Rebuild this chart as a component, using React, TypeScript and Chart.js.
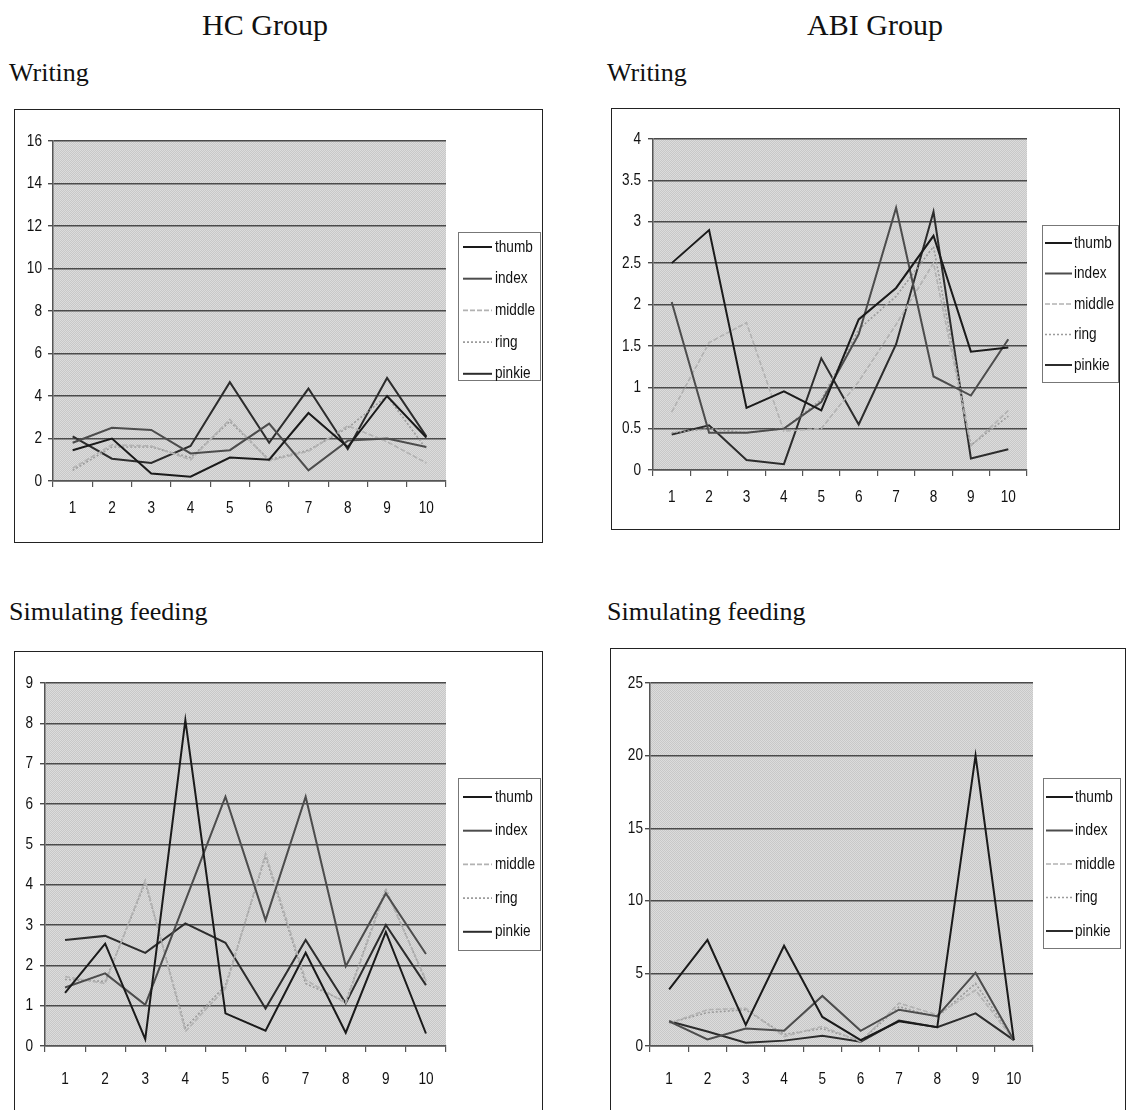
import React, { useEffect, useRef } from 'react';
import { Chart, registerables } from 'chart.js';

Chart.register(...registerables);

// ---------- data ----------
const categories = ['1', '2', '3', '4', '5', '6', '7', '8', '9', '10'];
const seriesNames = ['thumb', 'index', 'middle', 'ring', 'pinkie'];

// HC group – Writing
const hcWritingThumb = [1.45, 2.0, 0.35, 0.2, 1.1, 1.0, 3.2, 1.6, 4.0, 2.05];
const hcWritingIndex = [1.8, 2.5, 2.4, 1.3, 1.45, 2.7, 0.5, 1.9, 2.0, 1.6];
const hcWritingMiddle = [0.6, 1.7, 1.65, 1.0, 2.9, 0.95, 1.4, 2.6, 1.85, 0.85];
const hcWritingRing = [0.5, 1.6, 1.6, 1.1, 2.8, 1.0, 1.45, 2.5, 4.0, 1.5];
const hcWritingPinkie = [2.1, 1.05, 0.85, 1.65, 4.65, 1.8, 4.35, 1.5, 4.85, 2.1];

// ABI group – Writing
const abiWritingThumb = [2.5, 2.9, 0.75, 0.95, 0.72, 1.82, 2.2, 2.83, 1.43, 1.48];
const abiWritingIndex = [2.03, 0.45, 0.45, 0.5, 0.82, 1.64, 3.17, 1.13, 0.9, 1.58];
const abiWritingMiddle = [0.7, 1.54, 1.78, 0.47, 0.5, 1.07, 1.76, 2.5, 0.29, 0.72];
const abiWritingRing = [0.45, 0.5, 0.45, 0.5, 0.85, 1.7, 2.1, 2.7, 0.3, 0.65];
const abiWritingPinkie = [0.43, 0.54, 0.12, 0.07, 1.35, 0.55, 1.52, 3.12, 0.14, 0.25];

// HC group – Simulating feeding
const hcFeedingThumb = [1.32, 2.54, 0.17, 8.08, 0.81, 0.38, 2.31, 0.33, 2.83, 0.31];
const hcFeedingIndex = [1.45, 1.8, 1.02, 3.6, 6.18, 3.12, 6.18, 1.98, 3.78, 2.28];
const hcFeedingMiddle = [1.72, 1.55, 4.11, 0.36, 1.43, 4.77, 1.64, 1.06, 3.86, 1.64];
const hcFeedingRing = [1.65, 1.6, 4.05, 0.45, 1.5, 4.7, 1.55, 1.1, 3.9, 1.6];
const hcFeedingPinkie = [2.63, 2.73, 2.31, 3.04, 2.56, 0.93, 2.63, 1.06, 3.0, 1.51];

// ABI group – Simulating feeding
const abiFeedingThumb = [3.9, 7.3, 1.45, 6.9, 2.0, 0.4, 1.7, 1.3, 20.0, 0.4];
const abiFeedingIndex = [1.7, 0.45, 1.2, 1.05, 3.45, 1.05, 2.5, 2.05, 5.05, 0.4];
const abiFeedingMiddle = [1.55, 2.5, 2.6, 0.65, 1.35, 0.3, 2.95, 2.15, 3.85, 0.4];
const abiFeedingRing = [1.6, 2.3, 2.5, 0.8, 1.2, 0.35, 2.7, 2.0, 4.3, 0.45];
const abiFeedingPinkie = [1.7, 1.0, 0.23, 0.37, 0.7, 0.3, 1.75, 1.3, 2.25, 0.4];

// axis ranges [min, max, step]
const hcWritingAxis = [0, 16, 2];
const abiWritingAxis = [0, 4, 0.5];
const hcFeedingAxis = [0, 9, 1];
const abiFeedingAxis = [0, 25, 5];

// ---------- styles ----------
const seriesStyles = [
  { color: '#1a1a1a', width: 2, dash: [] as number[] },
  { color: '#4c4c4c', width: 2, dash: [] as number[] },
  { color: '#b2b2b2', width: 1.6, dash: [5, 2] },
  { color: '#9c9c9c', width: 1.6, dash: [2, 2] },
  { color: '#2c2c2c', width: 2, dash: [] as number[] },
];

const SANS = "'Liberation Sans', Arial, sans-serif";
const NARROW = 0.8;

let patternCanvas: HTMLCanvasElement | null = null;
function getPattern(ctx: CanvasRenderingContext2D) {
  if (!patternCanvas) {
    patternCanvas = document.createElement('canvas');
    patternCanvas.width = 2;
    patternCanvas.height = 2;
    const p = patternCanvas.getContext('2d')!;
    p.fillStyle = '#dcdcdc';
    p.fillRect(0, 0, 2, 2);
    p.fillStyle = '#c8c8c8';
    p.fillRect(0, 0, 1, 1);
    p.fillRect(1, 1, 1, 1);
  }
  return ctx.createPattern(patternCanvas, 'repeat');
}

function narrowText(ctx: CanvasRenderingContext2D, text: string, x: number, y: number, align: CanvasTextAlign, size: number) {
  ctx.save();
  ctx.translate(x, y);
  ctx.scale(NARROW, 1);
  ctx.font = `${size}px ${SANS}`;
  ctx.textAlign = align;
  ctx.textBaseline = 'middle';
  ctx.fillStyle = '#111';
  ctx.fillText(text, 0, 0);
  ctx.restore();
}

const plotBgPlugin = {
  id: 'plotBg',
  beforeDraw(chart: any) {
    const { ctx, chartArea } = chart;
    ctx.save();
    ctx.fillStyle = getPattern(ctx) || '#d0d0d0';
    ctx.fillRect(chartArea.left, chartArea.top, chartArea.right - chartArea.left, chartArea.bottom - chartArea.top);
    ctx.restore();
  },
};

const tickLabelPlugin = {
  id: 'tickLabels',
  afterDraw(chart: any, _args: any, opts: any) {
    const { ctx, chartArea } = chart;
    const xs = chart.scales.x;
    const ys = chart.scales.y;
    ys.ticks.forEach((t: any, i: number) => {
      const py = ys.getPixelForTick(i);
      const label = String(Number(Number(t.value).toFixed(2)));
      narrowText(ctx, label, chartArea.left - opts.yGap, py, 'right', 17);
    });
    xs.ticks.forEach((t: any, i: number) => {
      const px = xs.getPixelForTick(i);
      narrowText(ctx, String(xs.getLabelForValue(t.value)), px, chartArea.bottom + opts.xGap, 'center', 17);
    });
  },
};

const boxLegendPlugin = {
  id: 'boxLegend',
  afterDraw(chart: any, _args: any, opts: any) {
    const { ctx } = chart;
    ctx.save();
    ctx.setLineDash([]);
    ctx.strokeStyle = '#777';
    ctx.lineWidth = 1;
    ctx.strokeRect(opts.x + 0.5, opts.y + 0.5, opts.w, opts.h);
    chart.data.datasets.forEach((ds: any, i: number) => {
      const yy = opts.firstY + i * opts.spacing;
      ctx.beginPath();
      ctx.strokeStyle = ds.borderColor;
      ctx.lineWidth = ds.borderWidth;
      ctx.setLineDash(ds.borderDash || []);
      ctx.moveTo(opts.lineX0, yy);
      ctx.lineTo(opts.lineX1, yy);
      ctx.stroke();
      ctx.setLineDash([]);
      narrowText(ctx, ds.label, opts.textX, yy, 'left', 17);
    });
    ctx.restore();
  },
};

type PanelProps = {
  left: number;
  top: number;
  width: number;
  height: number;
  borderH: number;
  area: { l: number; t: number; r: number; b: number };
  axis: number[];
  series: number[][];
  xGap: number;
  yGap: number;
  legend: any;
};

function Panel(props: PanelProps) {
  const ref = useRef<HTMLCanvasElement | null>(null);
  useEffect(() => {
    if (!ref.current) return;
    const { width, height, area, axis, series, xGap, yGap, legend } = props;
    const xHeight = 44;
    const chart = new Chart(ref.current, {
      type: 'line',
      data: {
        labels: categories,
        datasets: series.map((vals, i) => ({
          label: seriesNames[i],
          data: vals,
          borderColor: seriesStyles[i].color,
          backgroundColor: seriesStyles[i].color,
          borderWidth: seriesStyles[i].width,
          borderDash: seriesStyles[i].dash,
          pointRadius: 0,
          tension: 0,
          fill: false,
        })),
      },
      options: {
        animation: false,
        responsive: false,
        maintainAspectRatio: false,
        devicePixelRatio: 1,
        layout: {
          padding: { left: 0, top: area.t, right: width - area.r, bottom: height - area.b - xHeight },
        },
        plugins: {
          legend: { display: false },
          tooltip: { enabled: false },
          boxLegend: legend,
          tickLabels: { xGap, yGap },
        } as any,
        scales: {
          x: {
            type: 'category',
            offset: true,
            grid: { offset: true, drawOnChartArea: false, drawTicks: true, tickLength: 6, color: '#555', lineWidth: 1.2 },
            border: { color: '#555', width: 1.5 },
            ticks: { display: false, autoSkip: false, maxRotation: 0 },
            afterFit: (s: any) => {
              s.height = xHeight;
            },
          },
          y: {
            min: axis[0],
            max: axis[1],
            ticks: { stepSize: axis[2], display: false },
            grid: { color: '#4a4a4a', lineWidth: 1.4, tickLength: 5 },
            border: { color: '#555', width: 1.5 },
            afterFit: (s: any) => {
              s.width = area.l;
            },
          },
        } as any,
      },
      plugins: [plotBgPlugin, tickLabelPlugin, boxLegendPlugin],
    } as any);
    return () => chart.destroy();
  }, []);
  return (
    <>
      <div
        style={{
          position: 'absolute',
          left: props.left,
          top: props.top,
          width: props.width,
          height: props.borderH,
          border: '1.5px solid #222',
          boxSizing: 'border-box',
        }}
      />
      <canvas
        ref={ref}
        width={props.width}
        height={props.height}
        style={{ position: 'absolute', left: props.left, top: props.top, width: props.width, height: props.height }}
      />
    </>
  );
}

const serif = "'Liberation Serif', 'Times New Roman', serif";

function Label({ text, left, top, size, center }: { text: string; left: number; top: number; size: number; center?: boolean }) {
  return (
    <div
      style={{
        position: 'absolute',
        left: center ? left - 150 : left,
        width: center ? 300 : undefined,
        textAlign: center ? 'center' : 'left',
        top,
        fontFamily: serif,
        fontSize: size,
        lineHeight: 1,
        color: '#111',
        whiteSpace: 'nowrap',
      }}
    >
      {text}
    </div>
  );
}

export default function App() {
  return (
    <div style={{ position: 'absolute', left: 0, top: 0, width: 1126, height: 1110, overflow: 'hidden', background: '#fff' }}>
      <Label text="HC Group" left={265} top={10} size={30} center />
      <Label text="ABI Group" left={875} top={10} size={30} center />
      <Label text="Writing" left={9} top={60} size={26} />
      <Label text="Writing" left={607} top={60} size={26} />
      <Label text="Simulating feeding" left={9} top={599} size={26} />
      <Label text="Simulating feeding" left={607} top={599} size={26} />

      <Panel
        left={14}
        top={109}
        width={529}
        height={434}
        borderH={434}
        area={{ l: 39, t: 32, r: 432, b: 372 }}
        axis={hcWritingAxis}
        series={[hcWritingThumb, hcWritingIndex, hcWritingMiddle, hcWritingRing, hcWritingPinkie]}
        xGap={27}
        yGap={11}
        legend={{ x: 444, y: 123, w: 82, h: 148, firstY: 138, spacing: 31.7, lineX0: 449, lineX1: 478, textX: 481 }}
      />
      <Panel
        left={611}
        top={108}
        width={509}
        height={422}
        borderH={422}
        area={{ l: 42, t: 31, r: 416, b: 362 }}
        axis={abiWritingAxis}
        series={[abiWritingThumb, abiWritingIndex, abiWritingMiddle, abiWritingRing, abiWritingPinkie]}
        xGap={27}
        yGap={12}
        legend={{ x: 431, y: 117, w: 76, h: 157, firstY: 135, spacing: 30.5, lineX0: 434, lineX1: 461, textX: 463 }}
      />
      <Panel
        left={14}
        top={651}
        width={529}
        height={459}
        borderH={480}
        area={{ l: 31, t: 32, r: 432, b: 395 }}
        axis={hcFeedingAxis}
        series={[hcFeedingThumb, hcFeedingIndex, hcFeedingMiddle, hcFeedingRing, hcFeedingPinkie]}
        xGap={33}
        yGap={12}
        legend={{ x: 444, y: 127, w: 82, h: 172, firstY: 146, spacing: 33.7, lineX0: 449, lineX1: 478, textX: 481 }}
      />
      <Panel
        left={610}
        top={648}
        width={516}
        height={462}
        borderH={480}
        area={{ l: 40, t: 35, r: 423, b: 398 }}
        axis={abiFeedingAxis}
        series={[abiFeedingThumb, abiFeedingIndex, abiFeedingMiddle, abiFeedingRing, abiFeedingPinkie]}
        xGap={33}
        yGap={7}
        legend={{ x: 433, y: 130, w: 77, h: 170, firstY: 149, spacing: 33.5, lineX0: 436, lineX1: 463, textX: 465 }}
      />
    </div>
  );
}
